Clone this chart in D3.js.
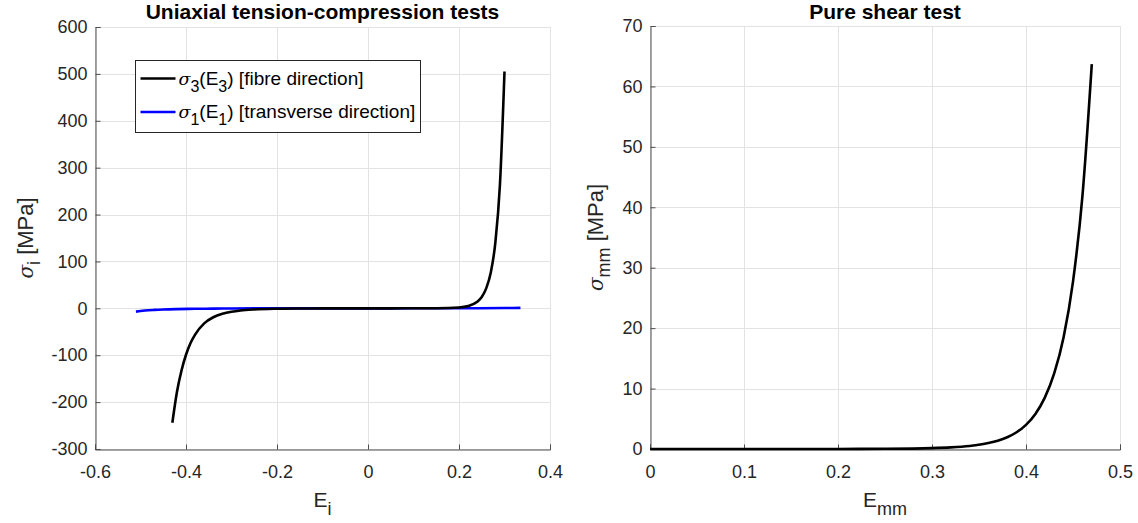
<!DOCTYPE html>
<html>
<head>
<meta charset="utf-8">
<script src="https://cdn.jsdelivr.net/npm/d3@7"></script>
<style>
  body { margin: 0; background: #fff; }
  svg text { font-family: "Liberation Sans", Arial, sans-serif; fill: #262626; }
</style>
</head>
<body>
<div id="chart"></div>
<script>
const width = 1138;
const height = 523;

// left panel: fibre direction sigma_3(E_3)
const fibreStrain = [-0.43, -0.42, -0.41, -0.40, -0.39, -0.38, -0.36, -0.34, -0.32, -0.30, -0.28, -0.25, -0.20, -0.15, -0.10, -0.05, 0,
                     0.05, 0.10, 0.15, 0.20, 0.22, 0.24, 0.25, 0.26, 0.27, 0.28, 0.29, 0.30];
const fibreStress = [-244, -179, -133, -99, -74, -56, -32, -19, -11.6, -7.2, -4.5, -2.4, -0.9, -0.38, -0.17, -0.06, 0,
                     0.01, 0.04, 0.23, 1.9, 4.9, 13.9, 24, 43, 77, 141, 264, 505];

// left panel: transverse direction sigma_1(E_1)
const transStrain = [-0.51, -0.50, -0.49, -0.47, -0.45, -0.42, -0.38, -0.34, -0.30, -0.20, -0.10, 0, 0.10, 0.20, 0.30, 0.335];
const transStress = [-7, -5.6, -4.6, -3.3, -2.4, -1.6, -1.0, -0.6, -0.35, -0.1, 0, 0, 0.05, 0.2, 0.6, 0.9];

// right panel: pure shear sigma_mm(E_mm)
const shearStrain = [0, 0.05, 0.10, 0.15, 0.20, 0.25, 0.30, 0.32, 0.34, 0.36, 0.37, 0.38, 0.39, 0.40, 0.41, 0.42, 0.43, 0.44, 0.45, 0.46, 0.47];
const shearStress = [0, 0.001, 0.002, 0.004, 0.012, 0.04, 0.15, 0.27, 0.51, 0.98, 1.37, 1.95, 2.77, 4.0, 5.8, 8.5, 12.5, 18.5, 27.7, 41.8, 63.7];

const leftXTicks = [-0.6, -0.4, -0.2, 0, 0.2, 0.4];
const leftYTicks = [-300, -200, -100, 0, 100, 200, 300, 400, 500, 600];
const rightXTicks = [0, 0.1, 0.2, 0.3, 0.4, 0.5];
const rightYTicks = [0, 10, 20, 30, 40, 50, 60, 70];

const legendItems = [
    { sub: "3", label: " [fibre direction]", color: "#000000" },
    { sub: "1", label: " [transverse direction]", color: "#0000ff" }
];

const svg = d3.select("#chart").append("svg")
    .attr("width", width)
    .attr("height", height);

// plain hyphen for negatives, like the original
const fmt = d => String(+(+d).toFixed(1));

function drawPanel(opts) {
    const x = d3.scaleLinear().domain(opts.xDomain).range([opts.left, opts.right]);
    const y = d3.scaleLinear().domain(opts.yDomain).range([opts.bottom, opts.top]);
    const g = svg.append("g");

    // grid
    g.selectAll(".vgrid").data(opts.xTicks).enter().append("line")
        .attr("x1", d => Math.round(x(d)) + 0.5).attr("x2", d => Math.round(x(d)) + 0.5)
        .attr("y1", opts.top).attr("y2", opts.bottom)
        .attr("stroke", "#e3e3e3").attr("stroke-width", 1);
    g.selectAll(".hgrid").data(opts.yTicks).enter().append("line")
        .attr("x1", opts.left).attr("x2", opts.right)
        .attr("y1", d => Math.round(y(d)) + 0.5).attr("y2", d => Math.round(y(d)) + 0.5)
        .attr("stroke", "#e3e3e3").attr("stroke-width", 1);

    // axes, ticks pointing inward
    const xAxis = d3.axisBottom(x).tickValues(opts.xTicks).tickSize(-5).tickPadding(16).tickFormat(fmt);
    const yAxis = d3.axisLeft(y).tickValues(opts.yTicks).tickSize(-5).tickPadding(8).tickFormat(fmt);

    const gx = g.append("g").attr("transform", `translate(0,${Math.round(opts.bottom) + 0.5})`).call(xAxis);
    const gy = g.append("g").attr("transform", `translate(${Math.round(opts.left) + 0.5},0)`).call(yAxis);
    [gx, gy].forEach(a => {
        a.attr("font-size", null).attr("font-family", null);
        a.select(".domain").attr("stroke", "#4d4d4d");
        a.selectAll(".tick line").attr("stroke", "#4d4d4d");
        a.selectAll(".tick text").style("font-size", "18px").attr("fill", "#262626");
    });

    const line = d3.line().x(d => x(d[0])).y(d => y(d[1])).curve(d3.curveMonotoneX);
    opts.series.forEach(s => {
        g.append("path")
            .datum(d3.zip(s.xs, s.ys))
            .attr("d", line)
            .attr("fill", "none")
            .attr("stroke", s.color)
            .attr("stroke-width", 2.6)
            .attr("stroke-linejoin", "round");
    });

    // title
    g.append("text")
        .attr("x", (opts.left + opts.right) / 2).attr("y", 19)
        .attr("text-anchor", "middle")
        .style("font-size", "21px").attr("font-weight", "bold").style("fill", "#000")
        .text(opts.title);

    // x label
    const xl = g.append("text")
        .attr("x", (opts.left + opts.right) / 2).attr("y", 507)
        .attr("text-anchor", "middle")
        .style("font-size", "21px");
    xl.append("tspan").text("E");
    xl.append("tspan").attr("dy", 8).style("font-size", "18px").text(opts.xSub);

    // y label
    const yl = g.append("text")
        .attr("transform", `translate(${opts.yLabelX},${(opts.top + opts.bottom) / 2}) rotate(-90)`)
        .attr("text-anchor", "middle")
        .style("font-size", "22px");
    yl.append("tspan").attr("font-style", "italic").style("font-family", "'DejaVu Serif', serif").style("font-size", "20px").text("σ");
    yl.append("tspan").attr("dy", 7).style("font-size", "18px").text(opts.xSub);
    yl.append("tspan").attr("dy", -7).text(" [MPa]");

    return { x, y, g };
}

drawPanel({
    left: 95, right: 550, top: 27, bottom: 449,
    xDomain: [-0.6, 0.4], yDomain: [-300, 600],
    xTicks: leftXTicks, yTicks: leftYTicks,
    title: "Uniaxial tension-compression tests",
    xSub: "i", yLabelX: 33,
    series: [
        { xs: transStrain, ys: transStress, color: "#0000ff" },
        { xs: fibreStrain, ys: fibreStress, color: "#000000" }
    ]
});

drawPanel({
    left: 650, right: 1120, top: 26, bottom: 449,
    xDomain: [0, 0.5], yDomain: [0, 70],
    xTicks: rightXTicks, yTicks: rightYTicks,
    title: "Pure shear test",
    xSub: "mm", yLabelX: 603,
    series: [
        { xs: shearStrain, ys: shearStress, color: "#000000" }
    ]
});

// legend
const lg = svg.append("g").attr("transform", "translate(135.5,60.5)");
lg.append("rect").attr("width", 285).attr("height", 72)
    .attr("fill", "#fff").attr("stroke", "#262626").attr("stroke-width", 1);
legendItems.forEach((it, i) => {
    const cy = 18 + i * 33.5;
    lg.append("line").attr("x1", 5).attr("x2", 40).attr("y1", cy).attr("y2", cy)
        .attr("stroke", it.color).attr("stroke-width", 2.6);
    const t = lg.append("text").attr("x", 43).attr("y", cy + 6).style("font-size", "19px").style("fill", "#000");
    t.append("tspan").attr("font-style", "italic").style("font-family", "'DejaVu Serif', serif").style("font-size", "17.5px").text("σ");
    t.append("tspan").attr("dy", 7).style("font-size", "16px").text(it.sub);
    t.append("tspan").attr("dy", -7).text("(E");
    t.append("tspan").attr("dy", 7).style("font-size", "16px").text(it.sub);
    t.append("tspan").attr("dy", -7).text(")" + it.label);
});
</script>
</body>
</html>
